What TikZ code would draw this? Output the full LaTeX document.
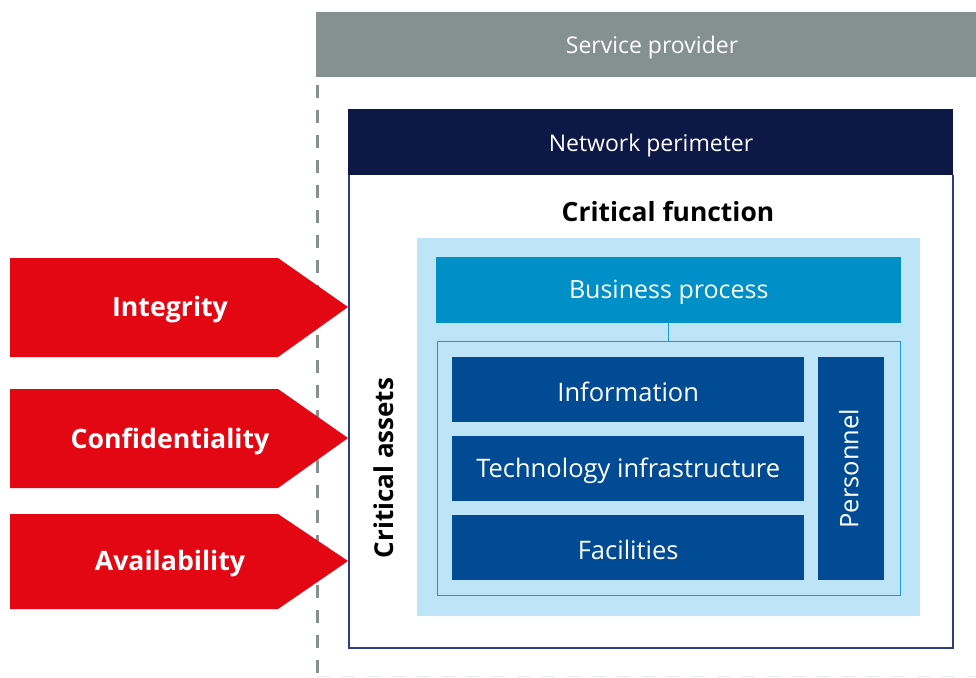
\documentclass[tikz,border=0pt]{standalone}
\usepackage{fontspec}
\setmainfont{Open Sans}
\definecolor{provgray}{HTML}{84918F}
\definecolor{navy}{HTML}{0D1846}
\definecolor{borderblue}{HTML}{2E3A8C}
\definecolor{lightblue}{HTML}{BEE4F8}
\definecolor{bizblue}{HTML}{0090C8}
\definecolor{darkblue}{HTML}{004B93}
\definecolor{outlineblue}{HTML}{1A9AD6}
\definecolor{cred}{HTML}{E30613}
\definecolor{dashgray}{HTML}{84918F}
\begin{document}
\begin{tikzpicture}[x=1pt,y=-1pt,
  lbl/.style={text=white,font=\fontsize{25.5}{30}\selectfont,inner sep=0pt,yshift=-2.5pt},
  redtxt/.style={text=white,font=\bfseries\fontsize{26.7}{31}\selectfont,inner sep=0pt,yshift=-3pt},
  assetbox/.style={fill=darkblue,draw=none},
  redarrow/.style={fill=cred,draw=none}]
\useasboundingbox (0,0) rectangle (976,677);
% service provider
\fill[provgray] (316,12) rectangle (976,77);
\node[lbl,font=\fontsize{23}{27}\selectfont] (sp) at (652,45) {Service provider};
% dashed boundary
\coordinate (dtop) at (317,85);
\coordinate (dbot) at (317,677);
\coordinate (dright) at (976,676);
\draw[dashgray,line width=3pt,dash pattern=on 13pt off 12pt] (dtop) -- (dbot);
\draw[dashgray!18,line width=1pt,dash pattern=on 13pt off 12pt] (dbot|-dright) -- (dright);
% network perimeter
\fill[navy] (348,109) rectangle (953,175);
\node[lbl,font=\fontsize{23}{27}\selectfont] (np) at (651,143) {Network perimeter};
\draw[borderblue,line width=2.6pt] (349,175) -- (349,648) -- (953,648) -- (953,175);
\node[inner sep=0pt,yshift=-2pt,font=\bfseries\fontsize{26.4}{31}\selectfont] (cf) at (668,210) {Critical function};
% critical assets area
\fill[lightblue] (417,238) rectangle (920,616);
\node[rectangle,fill=bizblue,minimum width=465pt,minimum height=66pt,anchor=north west,inner sep=0pt] (bp) at (436,257) {};
\node[lbl,font=\fontsize{25}{30}\selectfont] at (bp.center) {Business process};
\node[draw=outlineblue,line width=1.4pt,minimum width=463pt,minimum height=254pt,anchor=north west,inner sep=0pt] (ca) at (437,341) {};
\draw[outlineblue,line width=1.4pt] (bp.south) -- (bp.south|-ca.north);
\node[assetbox,minimum width=352pt,minimum height=65pt,anchor=north west,inner sep=0pt] (info) at (452,357) {};
\node[lbl] at (info.center) {Information};
\node[assetbox,minimum width=352pt,minimum height=65pt,anchor=north west,inner sep=0pt] (tech) at (452,436) {};
\node[lbl] at (tech.center) {Technology infrastructure};
\node[assetbox,minimum width=352pt,minimum height=65pt,anchor=north west,inner sep=0pt] (fac) at (452,515) {};
\node[lbl] at (fac.center) {Facilities};
\node[assetbox,minimum width=66pt,minimum height=223pt,anchor=north west,inner sep=0pt] (pers) at (818,357) {};
\node[lbl,rotate=90,yshift=2.5pt,xshift=2.5pt] at (pers.center) {Personnel};
\node[inner sep=0pt,rotate=90,font=\bfseries\fontsize{26}{31}\selectfont] (cat) at (384,468) {Critical assets};
% red arrows
\fill[redarrow] (10,258) -- (278,258) -- (348,307) -- (278,357) -- (10,357) -- cycle;
\node[redtxt] (integ) at (170,307) {Integrity};
\fill[redarrow] (10,389) -- (278,389) -- (348,438) -- (278,488) -- (10,488) -- cycle;
\node[redtxt] (conf) at (170,438) {Confidentiality};
\fill[redarrow] (10,514) -- (278,514) -- (348,561) -- (278,609) -- (10,609) -- cycle;
\node[redtxt] (avail) at (170,561) {Availability};
\end{tikzpicture}
\end{document}
